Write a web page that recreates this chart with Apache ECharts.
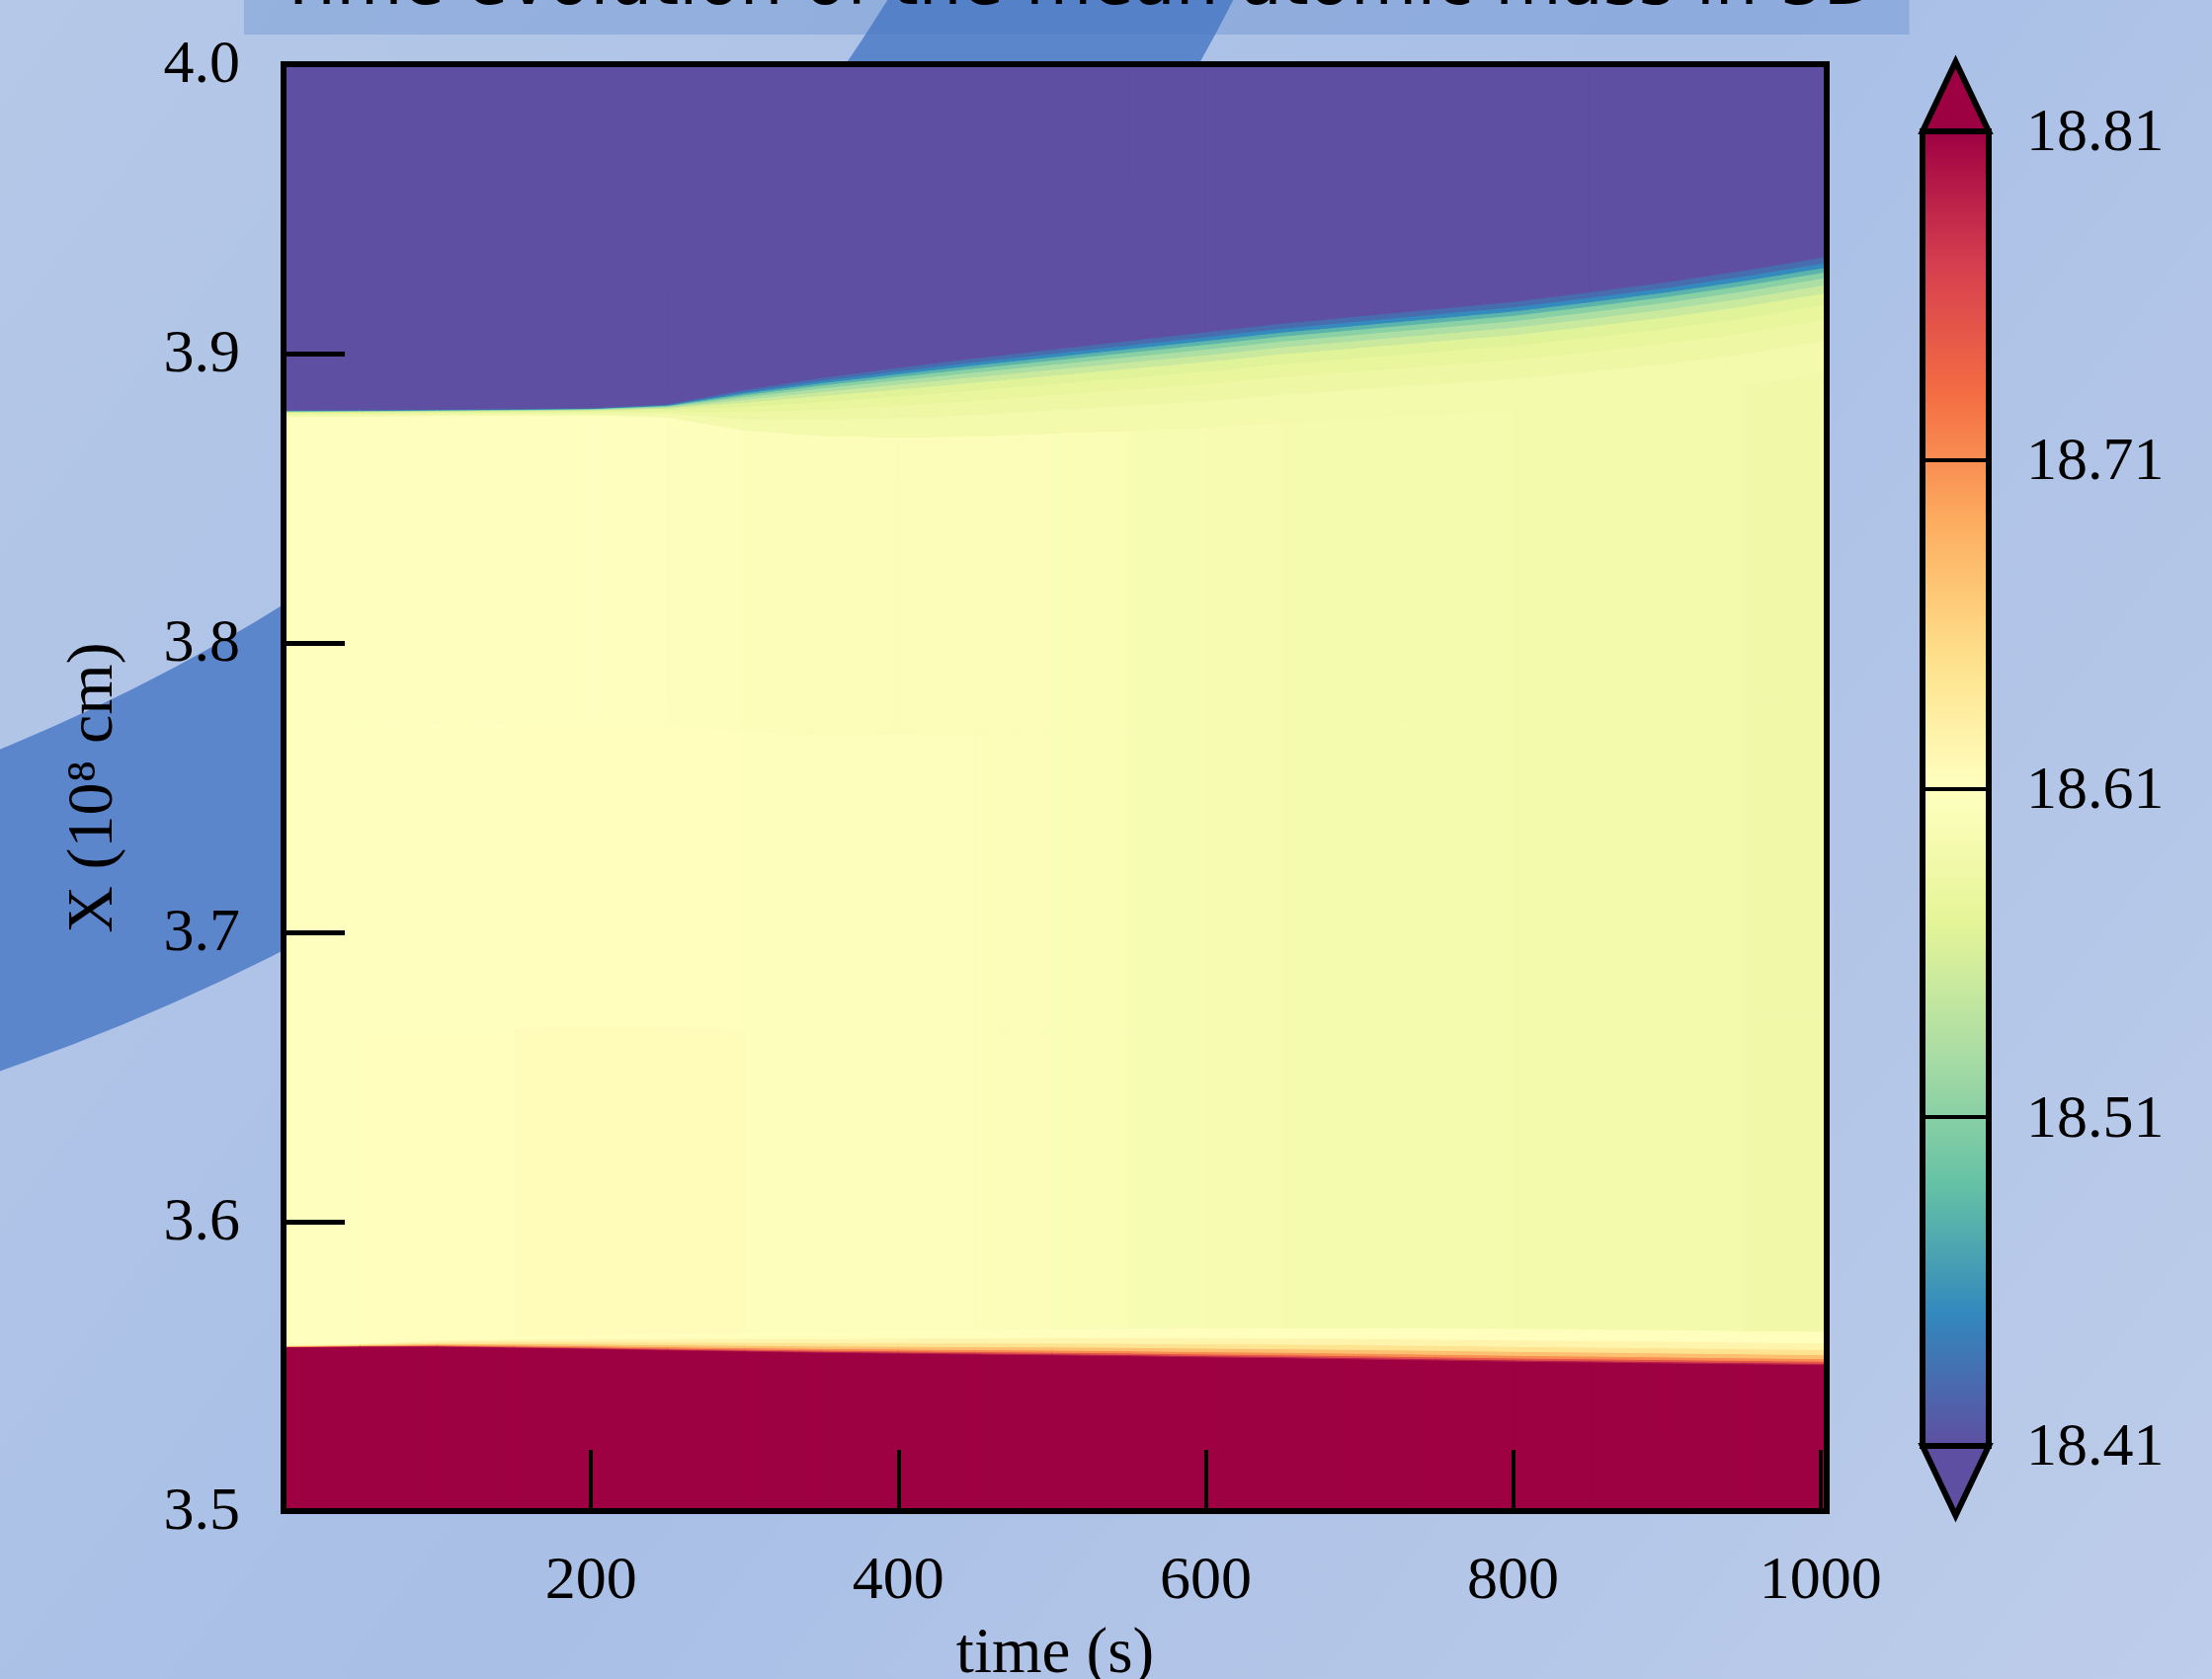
<!DOCTYPE html>
<html>
<head>
<meta charset="utf-8">
<script src="https://cdn.jsdelivr.net/npm/echarts@6/dist/echarts.min.js"></script>
<style>
html,body{margin:0;padding:0;background:#b0c4e7;}
#chart{width:2239px;height:1700px;}
</style>
</head>
<body>
<div id="chart"></div>
<script>
// ---------------- data ----------------
// time edges of the columns (s)
const timeEdges = [0, 50, 100, 150, 200, 250, 300, 350, 400, 450, 500, 550, 600, 650, 700, 750, 800, 850, 900, 950, 1004];
// X (1e8 cm) where the under-range (purple) layer ends, at each time edge
const upperEdge = [3.8805, 3.8806, 3.8808, 3.8810, 3.8813, 3.8826, 3.8876, 3.8917, 3.8952, 3.8985, 3.9015, 3.9045, 3.9075, 3.9105, 3.9130, 3.9155, 3.9180, 3.9213, 3.9248, 3.9288, 3.9335];
// thickness of the mixing zone below the upper boundary
const upperBlend = [0.0022, 0.0022, 0.0022, 0.0023, 0.0025, 0.0045, 0.0140, 0.0200, 0.0240, 0.0270, 0.0290, 0.0310, 0.0330, 0.0340, 0.0350, 0.0360, 0.0370, 0.0380, 0.0390, 0.0400, 0.0400];
// X where the over-range (crimson) layer ends
const lowerEdge = [3.5568, 3.5570, 3.5570, 3.5566, 3.5562, 3.5557, 3.5553, 3.5549, 3.5546, 3.5543, 3.5540, 3.5537, 3.5533, 3.5530, 3.5526, 3.5522, 3.5518, 3.5515, 3.5512, 3.5509, 3.5506];
// thickness of the mixing zone above the lower boundary
const lowerBlend = [0.0010, 0.0015, 0.0030, 0.0042, 0.0050, 0.0060, 0.0066, 0.0072, 0.0078, 0.0084, 0.0090, 0.0095, 0.0100, 0.0104, 0.0108, 0.0111, 0.0113, 0.0114, 0.0115, 0.0115, 0.0115];
// mean atomic mass in the convective interior, per time column (upper, middle, lower third)
const interiorTop    = [18.609, 18.609, 18.609, 18.609, 18.609, 18.607, 18.604, 18.603, 18.603, 18.602, 18.600, 18.597, 18.594, 18.593, 18.592, 18.592, 18.591, 18.590, 18.589, 18.588];
const interiorMid    = [18.609, 18.609, 18.609, 18.610, 18.611, 18.611, 18.606, 18.605, 18.605, 18.604, 18.601, 18.597, 18.594, 18.593, 18.592, 18.592, 18.591, 18.590, 18.589, 18.588];
const interiorBottom = [18.609, 18.610, 18.612, 18.613, 18.614, 18.615, 18.607, 18.605, 18.605, 18.604, 18.601, 18.597, 18.594, 18.593, 18.592, 18.592, 18.591, 18.590, 18.589, 18.588];
// values across the upper mixing zone (from the boundary downward) and the depth fractions where they end
const upperBlendValues = [18.43, 18.45, 18.48, 18.51, 18.53, 18.55, 18.565, 18.575, 18.583, 18.590];
const upperBlendFrac   = [0.05, 0.09, 0.13, 0.18, 0.24, 0.31, 0.41, 0.54, 0.72, 1.0];
// values across the lower mixing zone (from the boundary upward)
const lowerBlendValues = [18.79, 18.75, 18.71, 18.675, 18.645, 18.625, 18.612];
const lowerBlendFrac   = [0.04, 0.10, 0.18, 0.30, 0.45, 0.65, 1.0];
// values outside the colour range (extend arrows)
const underValue = 18.40;
const overValue = 18.82;
// colour bar
const cbarMin = 18.41, cbarMax = 18.81, cbarStep = 0.1;
const xTicks = [200, 400, 600, 800, 1000];

// ---------------- colour map (Spectral reversed) ----------------
const spectralR = ['#5e4fa2', '#3288bd', '#66c2a5', '#abdda4', '#e6f598', '#ffffbf', '#fee08b', '#fdae61', '#f46d43', '#d53e4f', '#9e0142'];
function hex2rgb(h) { return [parseInt(h.slice(1, 3), 16), parseInt(h.slice(3, 5), 16), parseInt(h.slice(5, 7), 16)]; }
function cmap(p) {
  p = Math.max(0, Math.min(1, p));
  const s = p * (spectralR.length - 1);
  const i = Math.min(spectralR.length - 2, Math.floor(s));
  const f = s - i;
  const a = hex2rgb(spectralR[i]), b = hex2rgb(spectralR[i + 1]);
  const c = a.map((v, k) => Math.round(v + (b[k] - v) * f));
  return 'rgb(' + c.join(',') + ')';
}
const nLevels = 150;
const pieces = [{ lt: cbarMin, color: spectralR[0] }];
for (let k = 0; k < nLevels; k++) {
  const lo = cbarMin + (cbarMax - cbarMin) * k / nLevels;
  const hi = cbarMin + (cbarMax - cbarMin) * (k + 1) / nLevels;
  pieces.push({ gte: lo, lt: hi, color: cmap((k + 0.5) / nLevels) });
}
pieces.push({ gte: cbarMax, color: spectralR[spectralR.length - 1] });

// ---------------- build the cell table ----------------
function bandsAt(e, b) {
  const L = lowerEdge[e], H = lowerBlend[e], U = upperEdge[e], D = upperBlend[e];
  const out = [[3.5, L, overValue]];
  let prev = L;
  lowerBlendFrac.forEach((f, k) => { const y = L + f * H; out.push([prev, y, lowerBlendValues[k]]); prev = y; });
  const iTop = U - D, third = (iTop - prev) / 3;
  out.push([prev, prev + third, interiorBottom[b]]);
  out.push([prev + third, prev + 2 * third, interiorMid[b]]);
  out.push([prev + 2 * third, iTop, interiorTop[b]]);
  for (let k = upperBlendFrac.length - 1; k >= 0; k--) {
    const yb = U - upperBlendFrac[k] * D;
    const yt = k > 0 ? U - upperBlendFrac[k - 1] * D : U;
    out.push([yb, yt, upperBlendValues[k]]);
  }
  out.push([U, 4.0, underValue]);
  return out;
}
const cells = [];
for (let i = 0; i < timeEdges.length - 1; i++) {
  const a = bandsAt(i, i), b = bandsAt(i + 1, i);
  for (let k = 0; k < a.length; k++) {
    cells.push([timeEdges[i], timeEdges[i + 1], a[k][0], a[k][1], b[k][0], b[k][1], a[k][2]]);
  }
}

// ---------------- chart ----------------
const serif = 'Liberation Serif';
const chart = echarts.init(document.getElementById('chart'), null, { renderer: 'canvas' });
const blackLine = { color: '#000', width: 6, cap: 'square' };

chart.setOption({
  animation: false,
  title: {
    text: 'Time evolution of the mean atomic mass in 3D',
    left: 247, top: -54,
    padding: [0, 34, 9, 34],
    backgroundColor: 'rgba(66,118,196,0.27)',
    textStyle: { fontFamily: 'DejaVu Sans', fontSize: 69, fontWeight: 'normal', color: '#000', lineHeight: 80 }
  },
  graphic: [
    {
      type: 'rect', z: -100, silent: true,
      shape: { x: 0, y: 0, width: 2239, height: 1700 },
      style: { fill: new echarts.graphic.LinearGradient(0, 0, 1, 1, [
        { offset: 0, color: '#b5c8e8' }, { offset: 0.5, color: '#a9bfe6' }, { offset: 1, color: '#bdcdea' }]) }
    },
    {
      type: 'ring', z: -99, silent: true,
      shape: { cx: -720, cy: -1005, r0: 1905, r: 2210 },
      style: { fill: '#5c86cb' }
    }
  ],
  visualMap: [{
    type: 'piecewise', show: false, seriesIndex: 0, dimension: 6, pieces: pieces
  }],
  grid: [
    { left: 287, right: 390, top: 65, bottom: 170, outerBoundsMode: 'none', containLabel: false },
    { left: 1946, width: 67, top: 133, height: 1331, outerBoundsMode: 'none', containLabel: false }
  ],
  xAxis: [
    {
      gridIndex: 0, type: 'value', min: 0, max: 1004, interval: 200, position: 'bottom', z: 10,
      axisLine: { onZero: false, lineStyle: blackLine },
      axisTick: { inside: true, length: 62, lineStyle: { color: '#000', width: 4 } },
      axisLabel: { margin: 41, fontFamily: serif, fontSize: 62, color: '#000',
        formatter: v => (xTicks.indexOf(v) >= 0 ? String(v) : '') },
      splitLine: { show: false },
      name: 'time (s)', nameLocation: 'middle', nameGap: 113,
      nameTextStyle: { fontFamily: serif, fontSize: 65, color: '#000' }
    },
    {
      gridIndex: 0, type: 'value', min: 0, max: 1004, position: 'top', z: 10,
      axisLine: { onZero: false, lineStyle: blackLine },
      axisTick: { show: false }, axisLabel: { show: false }, splitLine: { show: false }
    },
    {
      gridIndex: 1, type: 'value', min: 0, max: 1, show: false, splitLine: { show: false }
    }
  ],
  yAxis: [
    {
      gridIndex: 0, type: 'value', min: 3.5, max: 4.0, interval: 0.1, position: 'left', z: 10,
      axisLine: { onZero: false, lineStyle: blackLine },
      axisTick: { inside: true, length: 62, lineStyle: { color: '#000', width: 5 } },
      axisLabel: { margin: 44, verticalAlign: 'top', lineHeight: 4, fontFamily: serif, fontSize: 62, color: '#000', formatter: v => v.toFixed(1) },
      splitLine: { show: false },
      name: 'X (10⁸ cm)', nameLocation: 'middle', nameGap: 158,
      nameTextStyle: { fontFamily: serif, fontSize: 66, color: '#000' }
    },
    {
      gridIndex: 0, type: 'value', min: 3.5, max: 4.0, position: 'right', z: 10,
      axisLine: { onZero: false, lineStyle: blackLine },
      axisTick: { show: false }, axisLabel: { show: false }, splitLine: { show: false }
    },
    {
      gridIndex: 1, type: 'value', min: cbarMin, max: cbarMax, interval: cbarStep, position: 'right', z: 10,
      axisLine: { onZero: false, lineStyle: blackLine },
      axisTick: { inside: true, length: 67, lineStyle: { color: '#000', width: 4 } },
      axisLabel: { margin: 38, verticalAlign: 'top', lineHeight: 6, fontFamily: serif, fontSize: 62, color: '#000', formatter: v => v.toFixed(2) },
      splitLine: { show: false }
    },
    {
      gridIndex: 1, type: 'value', min: cbarMin, max: cbarMax, position: 'left', z: 10,
      axisLine: { onZero: false, lineStyle: blackLine },
      axisTick: { show: false }, axisLabel: { show: false }, splitLine: { show: false }
    }
  ],
  series: [
    {
      type: 'custom', xAxisIndex: 0, yAxisIndex: 0, clip: true,
      encode: { x: [0, 1], y: [2, 3, 4, 5] },
      data: cells,
      renderItem: function (params, api) {
        const t0 = api.value(0), t1 = api.value(1);
        const pts = [
          api.coord([t0, api.value(2)]),
          api.coord([t0, api.value(3)]),
          api.coord([t1, api.value(5)]),
          api.coord([t1, api.value(4)])
        ];
        const c = api.visual('color');
        return { type: 'polygon', shape: { points: pts }, style: { fill: c, stroke: c, lineWidth: 1 } };
      }
    },
    {
      type: 'custom', xAxisIndex: 2, yAxisIndex: 2, clip: false, z: 3,
      encode: { x: [], y: [0, 1] },
      data: [[cbarMin, cbarMax]],
      renderItem: function (params, api) {
        const lo = api.coord([0, api.value(0)]);
        const hi = api.coord([1, api.value(1)]);
        const x0 = lo[0], x1 = hi[0], yb = lo[1], yt = hi[1];
        const h = yb - yt, arrow = h * 0.053, xm = (x0 + x1) / 2;
        const stops = spectralR.map((c, k) => ({ offset: k / (spectralR.length - 1), color: c }));
        return {
          type: 'group',
          children: [
            { type: 'rect', shape: { x: x0, y: yt, width: x1 - x0, height: h },
              style: { fill: new echarts.graphic.LinearGradient(0, 1, 0, 0, stops) } },
            { type: 'polygon', shape: { points: [[x0, yt], [xm, yt - arrow], [x1, yt]] },
              style: { fill: spectralR[spectralR.length - 1], stroke: '#000', lineWidth: 6, lineJoin: 'miter' } },
            { type: 'polygon', shape: { points: [[x0, yb], [xm, yb + arrow], [x1, yb]] },
              style: { fill: spectralR[0], stroke: '#000', lineWidth: 6, lineJoin: 'miter' } }
          ]
        };
      }
    }
  ]
});
</script>
</body>
</html>
